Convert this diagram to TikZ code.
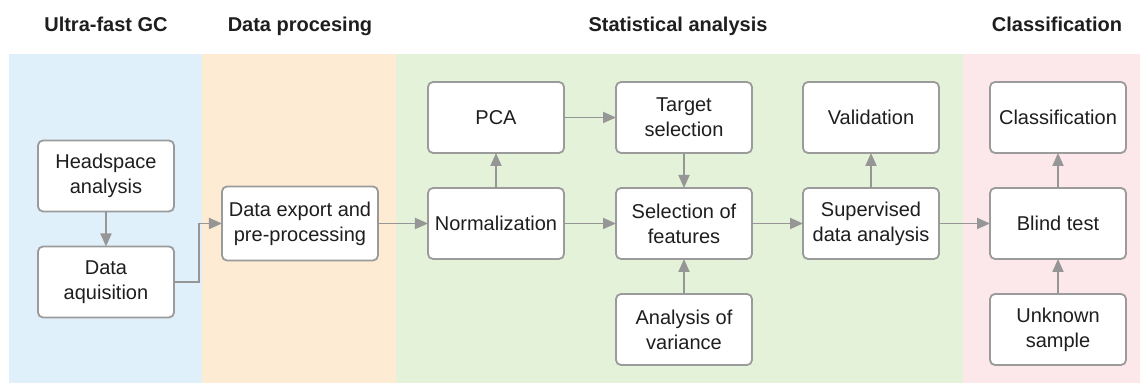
\documentclass[tikz,border=0pt]{standalone}
\usepackage{fontspec}
\setmainfont{Liberation Sans}
\usepackage{xcolor}
\usepackage{tikz}
\usetikzlibrary{positioning}
\usetikzlibrary{arrows.meta}

\definecolor{gcblue}{RGB}{224,240,250}
\definecolor{procorange}{RGB}{253,235,211}
\definecolor{statgreen}{RGB}{227,242,216}
\definecolor{classpink}{RGB}{252,231,235}
\definecolor{boxgray}{RGB}{155,155,155}
\definecolor{arrgray}{RGB}{150,150,150}
\definecolor{txtdark}{RGB}{30,30,30}

\begin{document}
\begin{tikzpicture}

        \def\dx{25.5pt}
        \def\dy{17.5pt}

        % Looks of the step boxes, the arrows and the band titles
        \tikzset{
            box/.style={draw=boxgray, line width=0.9pt, fill=white,
                rounded corners=2.5pt, minimum width=68pt,
                minimum height=35.5pt, align=center, inner sep=2pt,
                outer sep=0pt, text=txtdark,
                font=\fontsize{10}{12.5}\selectfont},
            flow/.style={draw=arrgray, line width=0.9pt,
                -{Triangle[length=6.5pt,width=5.5pt]}},
            head/.style={anchor=base, text=txtdark,
                font=\fontsize{10}{12}\selectfont\bfseries}
        }

        \useasboundingbox (-248pt,-79.75pt) rectangle (322pt,111.75pt);

        % Coloured bands behind the steps
        \fill[gcblue] (-243.5pt,-79.75pt) rectangle (-147pt,84.75pt);
        \fill[procorange] (-147pt,-79.75pt) rectangle (-50pt,84.75pt);
        \fill[statgreen] (-50pt,-79.75pt) rectangle (233.25pt,84.75pt);
        \fill[classpink] (233.25pt,-79.75pt) rectangle (322pt,84.75pt);

        \node[head] (H1) at (-195pt,96pt) {Ultra-fast GC};
        \node[head] (H2) at (-98pt,96pt) {Data procesing};
        \node[head] (H3) at (91pt,96pt) {Statistical analysis};
        \node[head] (H4) at (280.5pt,96pt) {Classification};

        % Scope used for the steps, placed from the normalization box
        \begin{scope}

            \node[box] (N1) at (0, 0) {Normalization};
            \node[box] (P1) [above=\dy of N1] {PCA};
            \node[box] (S2) [right=26pt of N1] {Selection of\\features};
            \node[box] (S1) [above=\dy of S2] {Target\\selection};
            \node[box] (S3) [below=\dy of S2] {Analysis of\\variance};
            \node[box] (V2) [right=\dx of S2] {Supervised\\data analysis};
            \node[box] (V1) [above=\dy of V2] {Validation};
            \node[box] (C2) [right=\dx of V2] {Blind test};
            \node[box] (C1) [above=\dy of C2] {Classification};
            \node[box] (C3) [below=\dy of C2] {Unknown\\sample};
            \node[box, minimum width=78pt, minimum height=37pt] (D1)
            [left=25pt of N1] {Data export and\\pre-processing};
            \node[box] (G2) [left=24pt of D1, yshift=-29.25pt]
            {Data\\aquisition};
            \node[box] (G1) [above=\dy of G2] {Headspace\\analysis};
        \end{scope}

        \begin{scope}[flow]
            \draw (G1) -- (G2);
            \draw (G2.east) -- ++(12.35pt,0) |- (D1.west);
            \draw (D1) -- (N1);
            \draw (N1) -- (P1);
            \draw (N1) -- (S2);
            \draw (P1) -- (S1);
            \draw (S1) -- (S2);
            \draw (S3) -- (S2);
            \draw (S2) -- (V2);
            \draw (V2) -- (V1);
            \draw (V2) -- (C2);
            \draw (C3) -- (C2);
            \draw (C2) -- (C1);
        \end{scope}

        \end{tikzpicture}
\end{document}
